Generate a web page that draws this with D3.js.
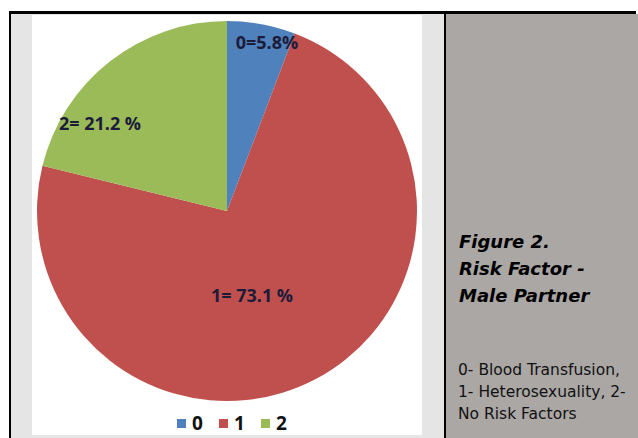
<!DOCTYPE html>
<html lang="en">
  <head>
    <meta charset="UTF-8" />
    <title>Risk Factor - Male Partner</title>
    <script src="https://d3js.org/d3.v7.min.js"></script>
    <style>
      body {
        margin: 0;
        background: #fff;
      }
      svg {
        display: block;
      }
    </style>
  </head>
  <body>
    <div id="chart"></div>
    <script>
      // data
      const categories = ["0", "1", "2"];
      const values = [5.8, 73.1, 21.2];
      const sliceLabels = ["0=5.8%", "1= 73.1 %", "2= 21.2 %"];
      const colors = ["#4f81bd", "#c0504d", "#9bbb59"];
      const captionTitle = ["Figure 2.", "Risk Factor -", "Male Partner"];
      const captionNote = ["0- Blood Transfusion,", "1- Heterosexuality, 2-", "No Risk Factors"];

      const width = 638;
      const height = 438;

      const svg = d3
        .select("#chart")
        .append("svg")
        .attr("width", width)
        .attr("height", height);

      // frame: light grey cell, white chart image, grey caption cell
      svg.append("rect").attr("x", 11).attr("y", 14).attr("width", 433).attr("height", 424).attr("fill", "#e5e5e5");
      svg.append("rect").attr("x", 32).attr("y", 15).attr("width", 390).attr("height", 420).attr("fill", "#fff");
      svg.append("rect").attr("x", 446).attr("y", 14).attr("width", 192).attr("height", 424).attr("fill", "#aba7a5");
      svg.append("rect").attr("x", 9).attr("y", 11).attr("width", 627).attr("height", 3).attr("fill", "#000");
      svg.append("rect").attr("x", 9).attr("y", 11).attr("width", 2).attr("height", 427).attr("fill", "#000");
      svg.append("rect").attr("x", 444).attr("y", 11).attr("width", 2).attr("height", 427).attr("fill", "#000");

      // pie
      const cx = 227;
      const cy = 211;
      const radius = 190;

      const pie = d3.pie().sort(null).value((d) => d);
      const arc = d3.arc().innerRadius(0).outerRadius(radius);
      const arcs = pie(values);

      const g = svg.append("g").attr("transform", `translate(${cx},${cy})`);

      g.selectAll("path")
        .data(arcs)
        .join("path")
        .attr("d", arc)
        .attr("fill", (d, i) => colors[i]);

      // slice labels, placed where the original has them
      const labelXY = [
        [267, 49],
        [252, 302],
        [100, 130],
      ];

      svg
        .append("g")
        .selectAll("text")
        .data(sliceLabels)
        .join("text")
        .attr("x", (d, i) => labelXY[i][0])
        .attr("y", (d, i) => labelXY[i][1])
        .attr("text-anchor", "middle")
        .attr("font-family", "'Open Sans', 'DejaVu Sans', sans-serif")
        .attr("font-weight", "bold")
        .attr("font-size", 18)
        .attr("fill", "#1c1c3a")
        .text((d) => d);

      // legend
      const legendX = d3.scaleBand().domain(categories).range([177, 303]);
      const legend = svg
        .append("g")
        .selectAll("g")
        .data(categories)
        .join("g")
        .attr("transform", (d) => `translate(${legendX(d)},423)`);

      legend
        .append("rect")
        .attr("x", 0)
        .attr("y", -4)
        .attr("width", 9)
        .attr("height", 9)
        .attr("fill", (d, i) => colors[i]);

      legend
        .append("text")
        .attr("x", 15)
        .attr("y", 7)
        .attr("font-family", "'Open Sans', 'DejaVu Sans', sans-serif")
        .attr("font-weight", "bold")
        .attr("font-size", 19)
        .attr("fill", "#111")
        .text((d) => d);

      // caption
      svg
        .append("g")
        .selectAll("text")
        .data(captionTitle)
        .join("text")
        .attr("x", 459)
        .attr("y", (d, i) => 248 + i * 27)
        .attr("font-family", "'DejaVu Sans', Verdana, sans-serif")
        .attr("font-weight", "bold")
        .attr("font-style", "italic")
        .attr("font-size", 18)
        .attr("fill", "#000")
        .text((d) => d);

      svg
        .append("g")
        .selectAll("text")
        .data(captionNote)
        .join("text")
        .attr("x", 458)
        .attr("y", (d, i) => 375 + i * 22)
        .attr("font-family", "'DejaVu Sans', sans-serif")
        .attr("font-size", 15.5)
        .attr("fill", "#111")
        .text((d) => d);
    </script>
  </body>
</html>
